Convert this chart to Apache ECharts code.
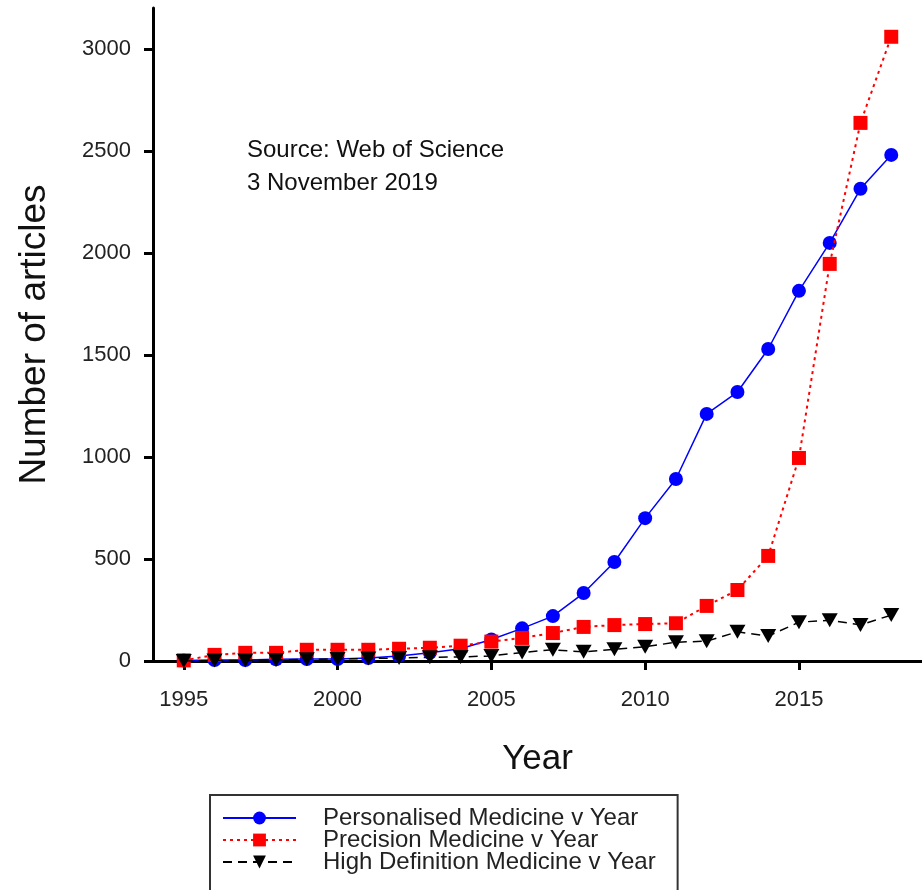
<!DOCTYPE html>
<html><head><meta charset="utf-8">
<script src="https://cdn.jsdelivr.net/npm/echarts@6/dist/echarts.min.js"></script>
<style>html,body{margin:0;padding:0;background:#fff}#c{width:922px;height:890px}</style>
</head><body><div id="c"></div>
<script>
const years = [1995,1996,1997,1998,1999,2000,2001,2002,2003,2004,2005,2006,2007,2008,2009,2010,2011,2012,2013,2014,2015,2016,2017,2018];
const personalised = [2,5,5,8,10,10,15,25,40,60,105,160,220,333,485,700,892,1211,1318,1529,1814,2049,2314,2480];
const precision = [3,30,40,40,55,55,55,60,65,75,95,113,137,167,176,181,185,270,348,515,995,1946,2637,3059];
const highDef = [0,2,3,5,8,10,12,15,18,20,25,42,55,45,57,70,92,97,143,122,190,200,177,225];
const yTicks = [0,500,1000,1500,2000,2500,3000];
const xTicks = [1995,2000,2005,2010,2015];
const seriesNames = ['Personalised Medicine v Year','Precision Medicine v Year','High Definition Medicine v Year'];
const sourceText = ['Source: Web of Science','3 November 2019'];

const pair = arr => years.map((y,i)=>[y,arr[i]]);
const font = 'Liberation Sans, Arial, sans-serif';
const chart = echarts.init(document.getElementById('c'));
chart.setOption({
  animation:false,
  backgroundColor:'#fff',
  grid:{left:153, top:8, width:775, height:653},
  xAxis:{
    type:'value', min:1994, max:2019,
    name:'Year', nameLocation:'middle', nameGap:81,
    nameTextStyle:{fontSize:35, color:'#111', fontFamily:font},
    axisLine:{show:true, lineStyle:{color:'#000', width:3}},
    axisTick:{show:true, inside:false, length:9, lineStyle:{color:'#000', width:3}, customValues:xTicks},
    axisLabel:{fontSize:22, color:'#222', margin:28, fontFamily:font, customValues:xTicks, formatter:v=>String(v)},
    splitLine:{show:false}
  },
  yAxis:{
    type:'value', min:0, max:3200,
    name:'Number of articles', nameLocation:'middle', nameGap:100, nameRotate:90,
    nameTextStyle:{fontSize:37, color:'#111', fontFamily:font},
    axisLine:{show:true, lineStyle:{color:'#000', width:3}},
    axisTick:{show:true, inside:false, length:9, lineStyle:{color:'#000', width:3}, customValues:yTicks},
    axisLabel:{fontSize:22, color:'#222', margin:22, fontFamily:font, customValues:yTicks, formatter:v=>String(v)},
    splitLine:{show:false}
  },
  legend:{
    orient:'vertical', left:210, top:795, height:120,
    padding:[11,22,30,12], itemGap:-2,
    itemWidth:73, itemHeight:16,
    borderColor:'#333', borderWidth:2,
    textStyle:{fontSize:24, lineHeight:22, color:'#222', fontFamily:font, padding:[0,0,0,22]},
    data:seriesNames
  },
  graphic:[
    {type:'text', left:247, top:134, style:{text:sourceText.join('\n'), fontSize:24, lineHeight:33, fill:'#111', fontFamily:font}}
  ],
  series:[
    {name:seriesNames[0], type:'line', data:pair(personalised), symbol:'circle', symbolSize:14,
     lineStyle:{color:'#0000ff', width:1.5}, itemStyle:{color:'#0000ff'}, z:2},
    {name:seriesNames[1], type:'line', data:pair(precision), symbol:'rect', symbolSize:14,
     lineStyle:{color:'#ff0000', width:2, type:[3,4]}, itemStyle:{color:'#ff0000'}, z:3},
    {name:seriesNames[2], type:'line', data:pair(highDef), symbol:'triangle', symbolRotate:180, symbolSize:[16,14],
     lineStyle:{color:'#000', width:1.5, type:[9,6]}, itemStyle:{color:'#000'}, z:4}
  ]
});
</script></body></html>
